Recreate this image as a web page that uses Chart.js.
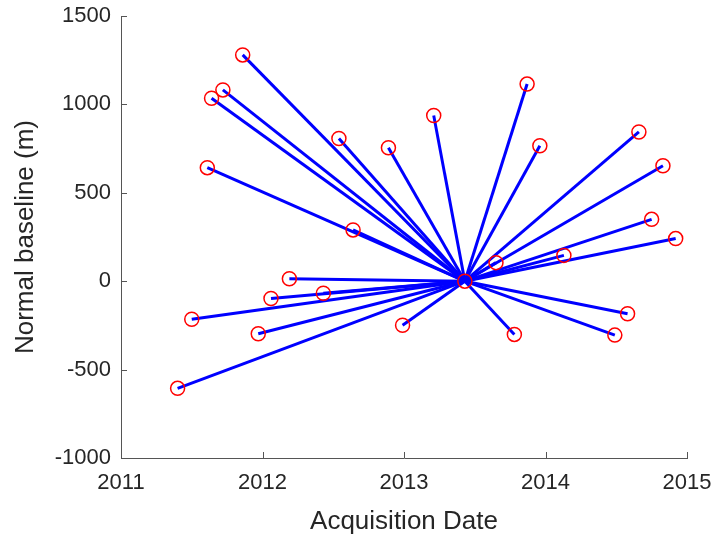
<!DOCTYPE html>
<html>
<head>
<meta charset="utf-8">
<script src="https://cdn.jsdelivr.net/npm/chart.js@4/dist/chart.umd.min.js"></script>
<style>
  html, body { margin: 0; padding: 0; background: #fff; }
  #wrap { width: 719px; height: 537px; }
</style>
</head>
<body>
<div id="wrap"><canvas id="graficoBaseline" width="719" height="537"></canvas></div>
<script>
// master acquisition (all pairs connect to it)
var masterDate = 2013.43;
var masterBaseline = 0;

// slave acquisitions: decimal year and normal baseline (m)
var slaveDates = [2011.86, 2011.72, 2011.64, 2011.61, 2012.54, 2012.89, 2013.21, 2013.87, 2013.96,
                  2014.66, 2014.83, 2014.75, 2014.92, 2012.64, 2013.65, 2014.13, 2012.19, 2012.43,
                  2012.06, 2011.50, 2011.97, 2012.99, 2013.78, 2014.49, 2014.58, 2011.40];
var slaveBaselines = [1280, 1082, 1035, 642, 807, 755, 937, 1115, 766,
                      844, 653, 350, 241, 290, 105, 146, 14, -68,
                      -98, -215, -297, -249, -301, -305, -184, -606];

var xTicks = [2011, 2012, 2013, 2014, 2015];
var yTicks = [-1000, -500, 0, 500, 1000, 1500];

var corTexto = '#262626';
var corEixo = '#555555';
var fonte = 'Liberation Sans, Arial, sans-serif';

// inward tick marks like matlab
var ticksInternos = {
  id: 'ticksInternos',
  afterDraw: function(chart) {
    var ctx = chart.ctx;
    var area = chart.chartArea;
    var x = chart.scales.x, y = chart.scales.y;
    ctx.save();
    ctx.strokeStyle = corEixo;
    ctx.lineWidth = 1;
    ctx.beginPath();
    xTicks.forEach(function(v) {
      var px = Math.round(x.getPixelForValue(v)) + 0.5;
      ctx.moveTo(px, area.bottom);
      ctx.lineTo(px, area.bottom - 6);
    });
    yTicks.forEach(function(v) {
      var py = Math.round(y.getPixelForValue(v)) + 0.5;
      ctx.moveTo(area.left, py);
      ctx.lineTo(area.left + 6, py);
    });
    ctx.stroke();
    ctx.restore();
  }
};

var datasets = [];
slaveDates.forEach(function(d, i) {
  datasets.push({
    type: 'line',
    data: [{x: masterDate, y: masterBaseline}, {x: d, y: slaveBaselines[i]}],
    borderColor: '#0000ff',
    borderWidth: 3,
    pointRadius: 0,
    fill: false,
    order: 2
  });
});

var todos = slaveDates.map(function(d, i) { return {x: d, y: slaveBaselines[i]}; });
todos.push({x: masterDate, y: masterBaseline});
datasets.push({
  type: 'scatter',
  data: todos,
  pointStyle: 'circle',
  pointRadius: 7,
  pointBorderWidth: 1.5,
  pointBorderColor: '#ff0000',
  pointBackgroundColor: 'rgba(0,0,0,0)',
  order: 1
});

new Chart(document.getElementById('graficoBaseline').getContext('2d'), {
  type: 'scatter',
  data: { datasets: datasets },
  options: {
    responsive: false,
    animation: false,
    events: [],
    layout: { padding: { left: 0, right: 32, top: 16, bottom: 0 } },
    plugins: { legend: { display: false }, tooltip: { enabled: false } },
    scales: {
      x: {
        type: 'linear',
        min: 2011, max: 2015,
        afterBuildTicks: function(s) { s.ticks = xTicks.map(function(v) { return {value: v}; }); },
        afterFit: function(s) { s.height = 79; s.paddingLeft = 0; s.paddingRight = 0; },
        grid: { drawOnChartArea: false, drawTicks: false },
        border: { display: true, color: corEixo, width: 1 },
        ticks: {
          color: corTexto,
          padding: 12,
          font: { family: fonte, size: 22 },
          callback: function(v) { return String(v); }
        },
        title: {
          display: true,
          text: 'Acquisition Date',
          color: corTexto,
          padding: { top: 2, bottom: 0 },
          font: { family: fonte, size: 26 }
        }
      },
      y: {
        type: 'linear',
        min: -1000, max: 1500,
        afterBuildTicks: function(s) { s.ticks = yTicks.map(function(v) { return {value: v}; }); },
        afterFit: function(s) { s.width = 121; s.paddingTop = 0; s.paddingBottom = 0; },
        grid: { drawOnChartArea: false, drawTicks: false },
        border: { display: true, color: corEixo, width: 1 },
        ticks: {
          color: corTexto,
          padding: 10,
          font: { family: fonte, size: 22 },
          callback: function(v) { return String(v); }
        },
        title: {
          display: true,
          text: 'Normal baseline (m)',
          color: corTexto,
          padding: { top: 10, bottom: 0 },
          font: { family: fonte, size: 26 }
        }
      }
    }
  },
  plugins: [ticksInternos]
});
</script>
</body>
</html>
